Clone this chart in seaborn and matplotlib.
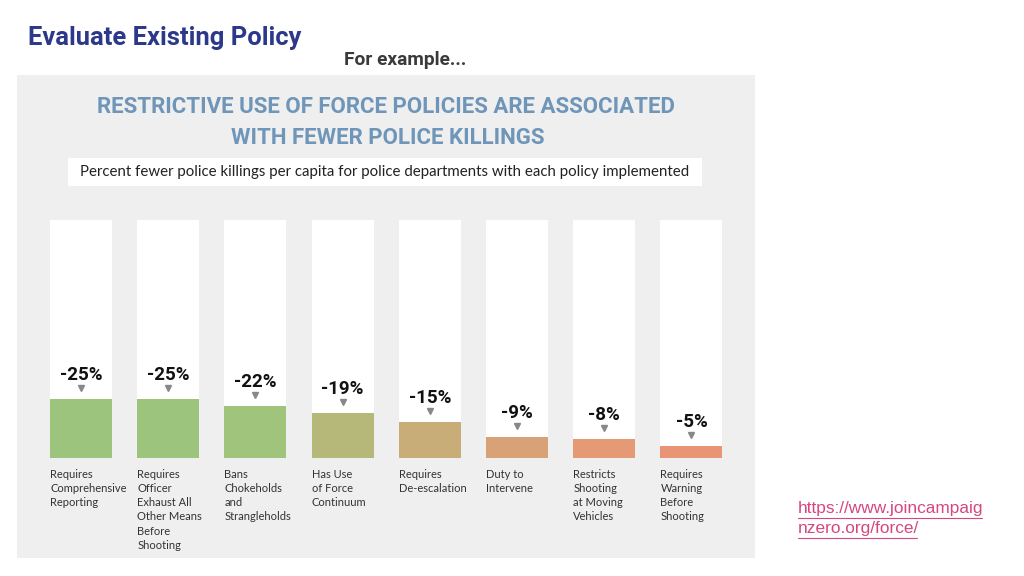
import matplotlib
matplotlib.use("Agg")
import matplotlib.pyplot as plt
import matplotlib.transforms as mtransforms
import seaborn as sns
import pandas as pd
from matplotlib.patches import Rectangle

# ---- data ----
categories = [
    "Requires\nComprehensive\nReporting",
    "Requires\nOfficer\nExhaust All\nOther Means\nBefore\nShooting",
    "Bans\nChokeholds\nand\nStrangleholds",
    "Has Use\nof Force\nContinuum",
    "Requires\nDe-escalation",
    "Duty to\nIntervene",
    "Restricts\nShooting\nat Moving\nVehicles",
    "Requires\nWarning\nBefore\nShooting",
]
reductions = [25, 25, 22, 19, 15, 9, 8, 5]
value_labels = ["-25%", "-25%", "-22%", "-19%", "-15%", "-9%", "-8%", "-5%"]
bar_colors = ["#9dc47d", "#9dc47d", "#a0c47b", "#b6b87a", "#c8ad78", "#d9a276", "#e59a76", "#e99474"]
full_scale = [100] * len(categories)

sns.set_theme(style="white")
plt.rcParams["font.family"] = ["Lato", "DejaVu Sans"]

W, H = 1024, 576
fig = plt.figure(figsize=(W / 100, H / 100), dpi=100)
fig.patch.set_facecolor("white")

def fx(px):
    return px / W

def fy(py):
    return 1 - py / H

# panel background
fig.patches.append(Rectangle((fx(17), fy(558)), fx(755) - fx(17), fy(75) - fy(558),
                             transform=fig.transFigure, facecolor="#efefef",
                             edgecolor="none", zorder=-3))
# subtitle white box
fig.patches.append(Rectangle((fx(68), fy(186)), fx(702) - fx(68), fy(158) - fy(186),
                             transform=fig.transFigure, facecolor="white",
                             edgecolor="none", zorder=-2))

# slide titles
fig.text(fx(28), fy(38), "Evaluate Existing Policy", fontsize=18.4, fontweight="bold",
         color="#2c388a", va="center", ha="left", family=["Roboto", "DejaVu Sans"])
fig.text(fx(344), fy(60), "For example...", fontsize=13.8, fontweight="bold",
         color="#3a3a3a", va="center", ha="left", family=["Roboto", "DejaVu Sans"])

# chart titles
title_font = ["Roboto", "DejaVu Sans"]
fig.text(fx(386), fy(107), "RESTRICTIVE USE OF FORCE POLICIES ARE ASSOCIATED",
         fontsize=16, fontweight="bold", color="#6f95b8", ha="center", va="center",
         family=title_font)
fig.text(fx(388), fy(138), "WITH FEWER POLICE KILLINGS",
         fontsize=16, fontweight="bold", color="#6f95b8", ha="center", va="center",
         family=title_font)
fig.text(fx(385), fy(172),
         "Percent fewer police killings per capita for police departments with each policy implemented",
         fontsize=10.8, color="#222222", ha="center", va="center")

# main axes: columns from x 37.4..735, y 220..458 px
left_px, right_px = 37.4, 735.0
top_px, bottom_px = 220.0, 458.0
ax = fig.add_axes([fx(left_px), fy(bottom_px), fx(right_px) - fx(left_px),
                   fy(top_px) - fy(bottom_px)])
ax.set_facecolor("none")

df = pd.DataFrame({"cat": categories, "val": reductions, "full": full_scale})
sns.barplot(data=df, x="cat", y="full", color="white", width=0.71, ax=ax,
            saturation=1, edgecolor="none")
sns.barplot(data=df, x="cat", y="val", hue="cat", palette=bar_colors, legend=False,
            width=0.71, ax=ax, saturation=1, edgecolor="none")

ax.set_xlim(-0.5, len(categories) - 0.5)
ax.set_ylim(0, 100)
ax.set_xlabel("")
ax.set_ylabel("")
ax.set_xticks([])
ax.set_yticks([])
for s in ax.spines.values():
    s.set_visible(False)

tri_shift = ax.transData + mtransforms.ScaledTranslation(0, 11 / 100, fig.dpi_scale_trans)
for i, (v, lab) in enumerate(zip(reductions, value_labels)):
    ax.annotate(lab, xy=(i, v), xytext=(0, 24), textcoords="offset pixels",
                ha="center", va="center", fontsize=13.5, fontweight="bold",
                color="#111111", family=title_font)
    ax.plot([i], [v], marker="v", markersize=4, color="#888888", linestyle="none",
            transform=tri_shift)
    ax.annotate(categories[i], xy=(i - 0.355, 0), xycoords=("data", "axes fraction"),
                xytext=(0, -11), textcoords="offset pixels", ha="left", va="top",
                fontsize=8, color="#333333", linespacing=1.35, annotation_clip=False)

# source link
link_font = ["Liberation Sans", "DejaVu Sans"]
fig.text(fx(798), fy(509), "https://www.joincampaig", fontsize=12.4, color="#d6477f",
         ha="left", va="center", family=link_font)
fig.text(fx(798), fy(529), "nzero.org/force/", fontsize=12.4, color="#d6477f",
         ha="left", va="center", family=link_font)
fig.add_artist(plt.Line2D([fx(798), fx(982)], [fy(518), fy(518)], color="#d6477f", lw=0.8))
fig.add_artist(plt.Line2D([fx(798), fx(917)], [fy(538), fy(538)], color="#d6477f", lw=0.8))

fig.savefig("out.png", dpi=100, facecolor="white")
